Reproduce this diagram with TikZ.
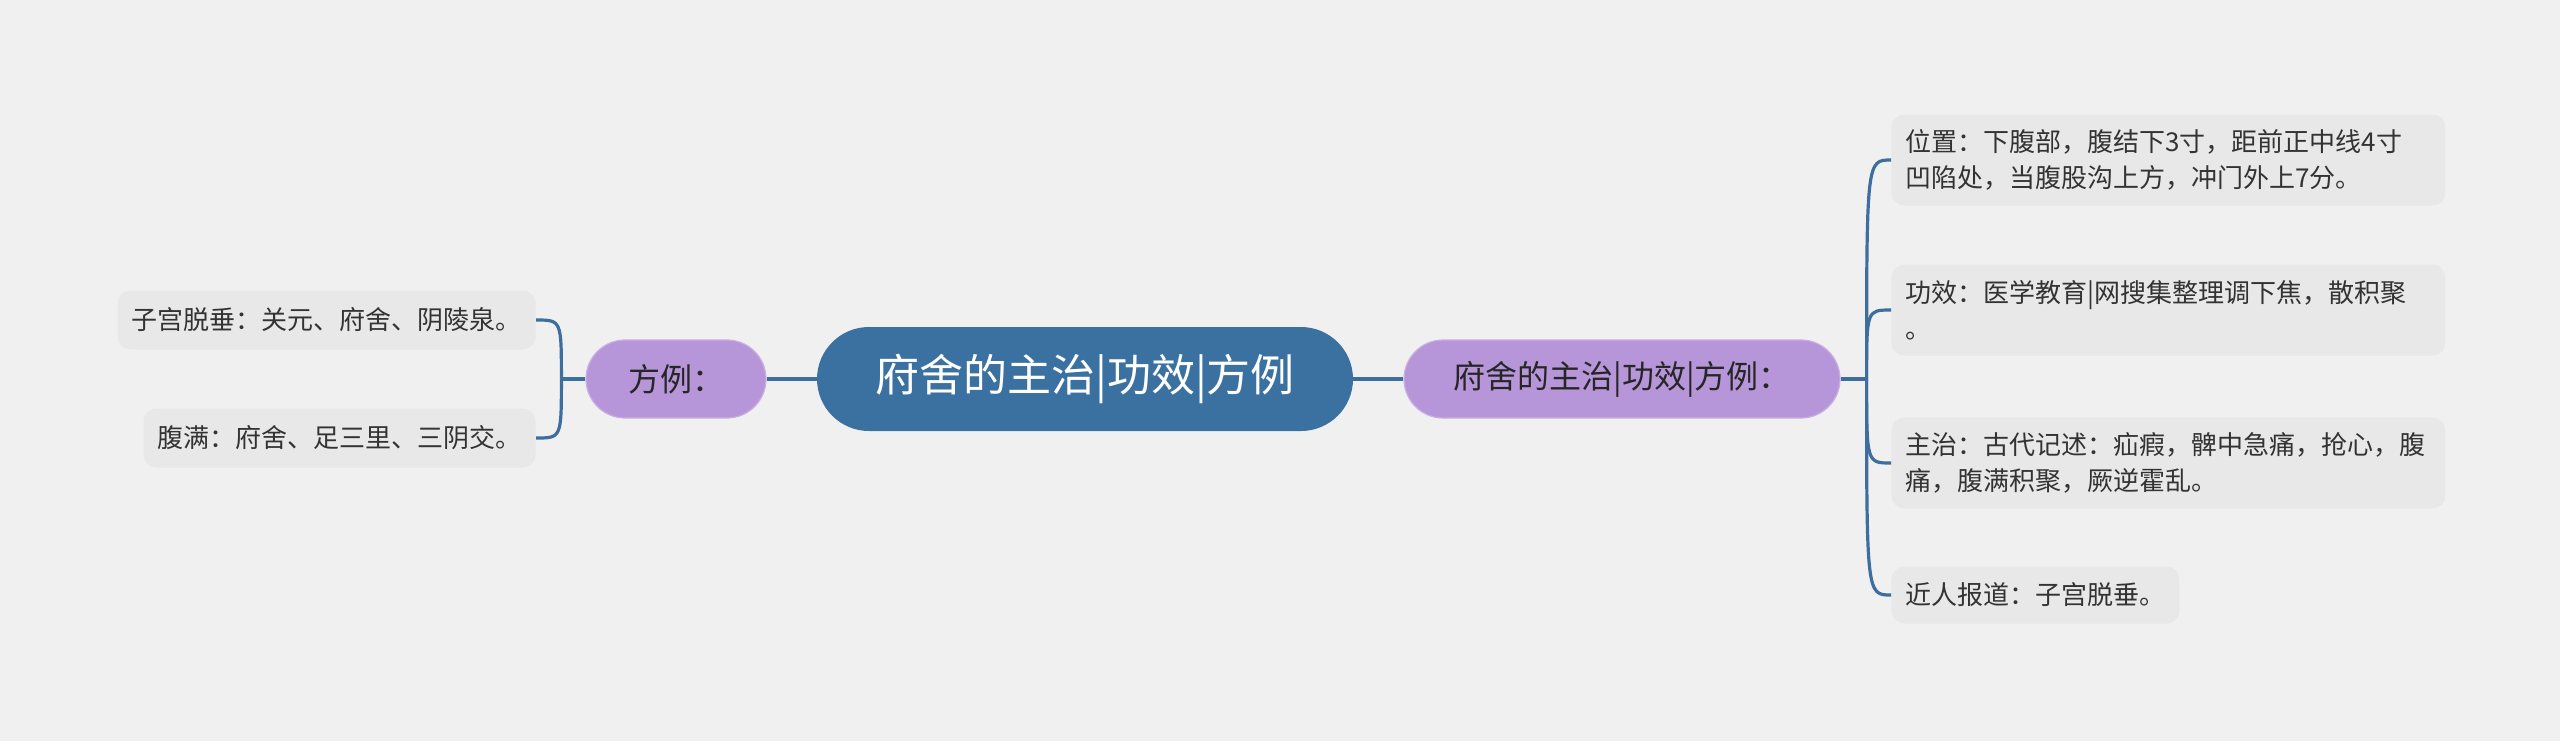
\documentclass[tikz,border=0pt]{standalone}
\usepackage{fontspec}
\newfontfamily\cjk{Noto Sans CJK SC}
\definecolor{bgcol}{HTML}{F0F0F0}
\definecolor{linecol}{HTML}{3D6E9E}
\definecolor{rootcol}{HTML}{3B71A1}
\definecolor{subcol}{HTML}{B795D9}
\definecolor{leafcol}{HTML}{E8E8E8}
\definecolor{txtcol}{HTML}{333333}

\begin{document}
\begin{tikzpicture}[x=0.5pt,y=-0.5pt,
  root/.style={fill=rootcol, rounded corners=26pt, minimum width=268pt,
    minimum height=52pt, text=white, inner sep=0pt,
    font=\cjk\fontsize{22}{26}\selectfont},
  sub/.style={fill=subcol, draw=subcol!75!white, line width=0.6pt,
    rounded corners=19.5pt, minimum height=39pt, text=black!85, inner sep=0pt,
    font=\cjk\fontsize{16}{20}\selectfont},
  leaf/.style={fill=leafcol, rounded corners=6.5pt, text=txtcol,
    inner xsep=7pt, align=left, font=\cjk\fontsize{13}{18}\selectfont},
  link/.style={draw=linecol, line width=1.6pt}]

  % background
  \useasboundingbox[fill=bgcol] (0,0) rectangle (2560,741);

  % main nodes
  \node[root] (root) at (1085,379) {府舍的主治|功效|方例};
  \node[sub, minimum width=218pt] (rsub) at (1622,379) {府舍的主治|功效|方例：};
  \node[sub, minimum width=90pt] (lsub) at (676,379) {方例：};

  % right leaves
  \node[leaf, anchor=west, text width=263pt, minimum height=45.5pt] (pos) at (1891,160)
    {位置：下腹部，腹结下3寸，距前正中线4寸\\凹陷处，当腹股沟上方，冲门外上7分。};
  \node[leaf, anchor=west, text width=263pt, minimum height=45.5pt] (eff) at (1891,310)
    {功效：医学教育|网搜集整理调下焦，散积聚\\。};
  \node[leaf, anchor=west, text width=263pt, minimum height=45.5pt] (cure) at (1891,463)
    {主治：古代记述：疝瘕，髀中急痛，抢心，腹\\痛，腹满积聚，厥逆霍乱。};
  \node[leaf, anchor=west, minimum height=28.5pt] (news) at (1891,595)
    {近人报道：子宫脱垂。};

  % left leaves
  \node[leaf, anchor=east, minimum height=29.5pt] (uter) at (536,320)
    {子宫脱垂：关元、府舍、阴陵泉。};
  \node[leaf, anchor=east, minimum height=29.5pt] (full) at (536,438)
    {腹满：府舍、足三里、三阴交。};

  % connectors
  \coordinate (rj) at ([xshift=13pt]rsub.east);
  \coordinate (lj) at ([xshift=-12pt]lsub.west);
  \draw[link] (root) -- (rsub);
  \draw[link] (root) -- (lsub);
  \draw[link] (rsub.east) -- (rj);
  \draw[link] (lsub.west) -- (lj);
  \foreach \n in {pos,eff,cure,news}
    \draw[link] (rj) .. controls (rj |- \n.west) .. (\n.west);
  \foreach \n in {uter,full}
    \draw[link] (lj) .. controls (lj |- \n.east) .. (\n.east);
\end{tikzpicture}
\end{document}
